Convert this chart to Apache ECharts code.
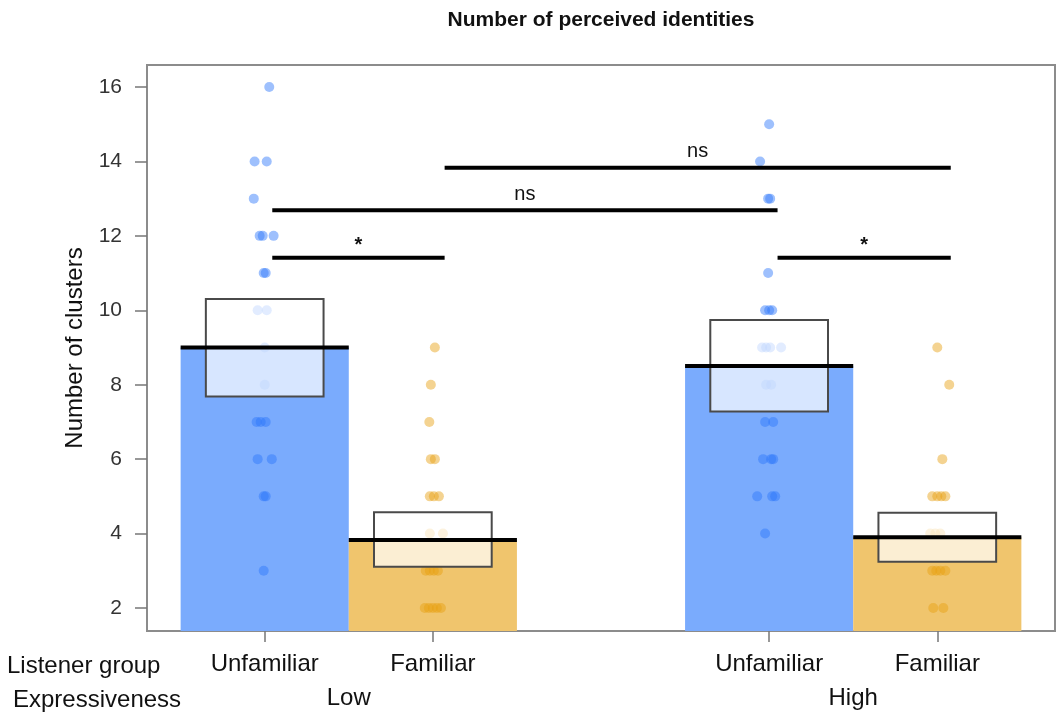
<!DOCTYPE html>
<html>
<head>
<meta charset="utf-8">
<script src="https://cdn.jsdelivr.net/npm/echarts@6/dist/echarts.min.js"></script>
<style>
  html, body { margin: 0; padding: 0; background: #fff; }
  #chart { width: 1057px; height: 714px; }
</style>
</head>
<body>
<div id="chart"></div>
<script>
// ---------- data ----------
const chartTitle = 'Number of perceived identities';
const yAxisName = 'Number of clusters';
const rowHeaders = ['Listener group', 'Expressiveness'];
const listenerGroups = ['Unfamiliar', 'Familiar', 'Unfamiliar', 'Familiar'];
const groupX = [1, 2, 4, 5];
const expressiveness = ['Low', 'High'];
const expressivenessX = [1.5, 4.5];
const yTicks = [2, 4, 6, 8, 10, 12, 14, 16];

const meanValues = [9.0, 3.83, 8.50, 3.90];
const ciLow = [7.68, 3.11, 7.28, 3.24];
const ciHigh = [10.30, 4.57, 9.74, 4.56];

// individual observations: [horizontal jitter (axis units), value]
const lowUnfamiliarPts = [
  [0.027, 16], [-0.06, 14], [0.012, 14], [-0.065, 13],
  [-0.03, 12], [-0.012, 12], [0.053, 12], [-0.006, 11], [0.006, 11],
  [-0.042, 10], [0.012, 10], [0, 9], [0, 8],
  [-0.048, 7], [-0.024, 7], [0.006, 7], [-0.042, 6], [0.042, 6],
  [-0.006, 5], [0.006, 5], [-0.006, 3]
];
const lowFamiliarPts = [
  [0.012, 9], [-0.012, 8], [-0.021, 7], [-0.012, 6], [0.012, 6],
  [-0.018, 5], [0.006, 5], [0.036, 5], [-0.018, 4], [0.06, 4],
  [-0.042, 3], [-0.018, 3], [0.006, 3], [0.03, 3],
  [-0.048, 2], [-0.024, 2], [0, 2], [0.024, 2], [0.048, 2]
];
const highUnfamiliarPts = [
  [0, 15], [-0.054, 14], [-0.006, 13], [0.006, 13], [-0.006, 11],
  [-0.024, 10], [0, 10], [0.018, 10],
  [-0.042, 9], [-0.018, 9], [0.006, 9], [0.071, 9],
  [-0.018, 8], [0.012, 8], [-0.024, 7], [0.024, 7],
  [-0.036, 6], [0.012, 6], [0.024, 6],
  [-0.071, 5], [0.018, 5], [0.036, 5], [-0.024, 4]
];
const highFamiliarPts = [
  [0, 9], [0.071, 8], [0.03, 6],
  [-0.03, 5], [0, 5], [0.024, 5], [0.048, 5],
  [-0.042, 4], [-0.012, 4], [0.018, 4],
  [-0.03, 3], [-0.006, 3], [0.018, 3], [0.048, 3],
  [-0.024, 2], [0.036, 2]
];
const groupPoints = [lowUnfamiliarPts, lowFamiliarPts, highUnfamiliarPts, highFamiliarPts];

// significance brackets: [from x, to x, height, label]
const sigFrom = [1.045, 1.045, 2.07, 4.05];
const sigTo = [2.07, 4.05, 5.08, 5.08];
const sigY = [11.41, 12.69, 13.83, 11.41];
const sigLabels = ['*', 'ns', 'ns', '*'];

// ---------- styling ----------
const FONT = '"Liberation Sans", Arial, Helvetica, sans-serif';
const barColors = ['#7aabfd', '#f0c56d'];
const pointColors = ['rgba(45,118,250,0.58)', 'rgba(232,160,18,0.58)'];
const yMin = 1.382, yMax = 16.591;
const xMin = 0.3, xMax = 5.7;

const chart = echarts.init(document.getElementById('chart'), null, { renderer: 'canvas' });

const barSeries = {
  type: 'custom', z: 1, silent: true,
  data: groupX.map((x, i) => [x, meanValues[i]]),
  renderItem: (params, api) => {
    const x = api.value(0), v = api.value(1);
    const p0 = api.coord([x - 0.5, yMin]);
    const p1 = api.coord([x + 0.5, v]);
    return { type: 'rect', shape: { x: p0[0], y: p1[1], width: p1[0] - p0[0], height: p0[1] - p1[1] },
      style: { fill: barColors[params.dataIndex % 2] } };
  }
};

const pointSeries = groupPoints.map((pts, g) => ({
  type: 'scatter', z: 2, silent: true, symbolSize: 10,
  itemStyle: { color: pointColors[g % 2] },
  data: pts.map(p => [groupX[g] + p[0], p[1]])
}));

const ciSeries = {
  type: 'custom', z: 3, silent: true,
  data: groupX.map((x, i) => [x, ciLow[i], ciHigh[i]]),
  renderItem: (params, api) => {
    const x = api.value(0);
    const p0 = api.coord([x - 0.35, api.value(1)]);
    const p1 = api.coord([x + 0.35, api.value(2)]);
    return { type: 'rect', shape: { x: p0[0], y: p1[1], width: p1[0] - p0[0], height: p0[1] - p1[1] },
      style: { fill: 'rgba(255,255,255,0.7)', stroke: '#4a4a4a', lineWidth: 2 } };
  }
};

const meanSeries = {
  type: 'custom', z: 4, silent: true,
  data: groupX.map((x, i) => [x, meanValues[i]]),
  renderItem: (params, api) => {
    const x = api.value(0), v = api.value(1);
    const a = api.coord([x - 0.5, v]);
    const b = api.coord([x + 0.5, v]);
    return { type: 'line', shape: { x1: a[0], y1: a[1], x2: b[0], y2: b[1] },
      style: { stroke: '#000', lineWidth: 4 } };
  }
};

const sigSeries = {
  type: 'custom', z: 5, silent: true,
  data: sigFrom.map((f, i) => [f, sigTo[i], sigY[i]]),
  renderItem: (params, api) => {
    const a = api.coord([api.value(0), api.value(2)]);
    const b = api.coord([api.value(1), api.value(2)]);
    const lab = sigLabels[params.dataIndex];
    return { type: 'group', children: [
      { type: 'line', shape: { x1: a[0], y1: a[1], x2: b[0], y2: b[1] }, style: { stroke: '#000', lineWidth: 4 } },
      { type: 'text', x: (a[0] + b[0]) / 2, y: a[1] - (lab === '*' ? 12 : 16),
        style: { text: lab, textAlign: 'center', textVerticalAlign: 'middle',
          font: (lab === '*' ? 'bold 20px ' : '20px ') + FONT, fill: '#111' } }
    ] };
  }
};

const option = {
  animation: false,
  backgroundColor: '#fff',
  grid: { left: 147, right: 2, top: 65, bottom: 83, show: true, borderColor: '#8c8c8c', borderWidth: 2, backgroundColor: 'transparent' },
  graphic: [
    { type: 'text', x: 601, y: 20, style: { text: chartTitle, textAlign: 'center', textVerticalAlign: 'middle', font: 'bold 21px ' + FONT, fill: '#111' } },
    { type: 'text', x: 7, y: 666, style: { text: rowHeaders[0], textAlign: 'left', textVerticalAlign: 'middle', font: '24px ' + FONT, fill: '#111' } },
    { type: 'text', x: 13, y: 700, style: { text: rowHeaders[1], textAlign: 'left', textVerticalAlign: 'middle', font: '24px ' + FONT, fill: '#111' } }
  ],
  xAxis: [
    {
      type: 'value', min: xMin, max: xMax, position: 'bottom',
      splitLine: { show: false },
      axisLine: { show: true, lineStyle: { color: '#8c8c8c', width: 2 } },
      axisTick: { show: true, length: 11, customValues: groupX, lineStyle: { color: '#777', width: 1.5 } },
      axisLabel: { customValues: groupX, margin: 21, fontSize: 24, fontFamily: FONT, color: '#111',
        formatter: v => listenerGroups[groupX.indexOf(v)] }
    },
    {
      type: 'value', min: xMin, max: xMax, position: 'bottom', offset: 34,
      splitLine: { show: false }, axisLine: { show: false }, axisTick: { show: false },
      axisLabel: { customValues: expressivenessX, margin: 21, fontSize: 24, fontFamily: FONT, color: '#111',
        formatter: v => expressiveness[expressivenessX.indexOf(v)] }
    }
  ],
  yAxis: {
    type: 'value', min: yMin, max: yMax,
    name: yAxisName, nameLocation: 'middle', nameGap: 60,
    nameTextStyle: { fontSize: 24, fontFamily: FONT, color: '#111' },
    splitLine: { show: false },
    axisLine: { show: true, lineStyle: { color: '#8c8c8c', width: 2 } },
    axisTick: { show: true, length: 12, customValues: yTicks, lineStyle: { color: '#777', width: 1.5 } },
    axisLabel: { customValues: yTicks, margin: 25, fontSize: 21, fontFamily: FONT, color: '#333' }
  },
  series: [barSeries, ...pointSeries, ciSeries, meanSeries, sigSeries]
};
chart.setOption(option);
</script>
</body>
</html>
